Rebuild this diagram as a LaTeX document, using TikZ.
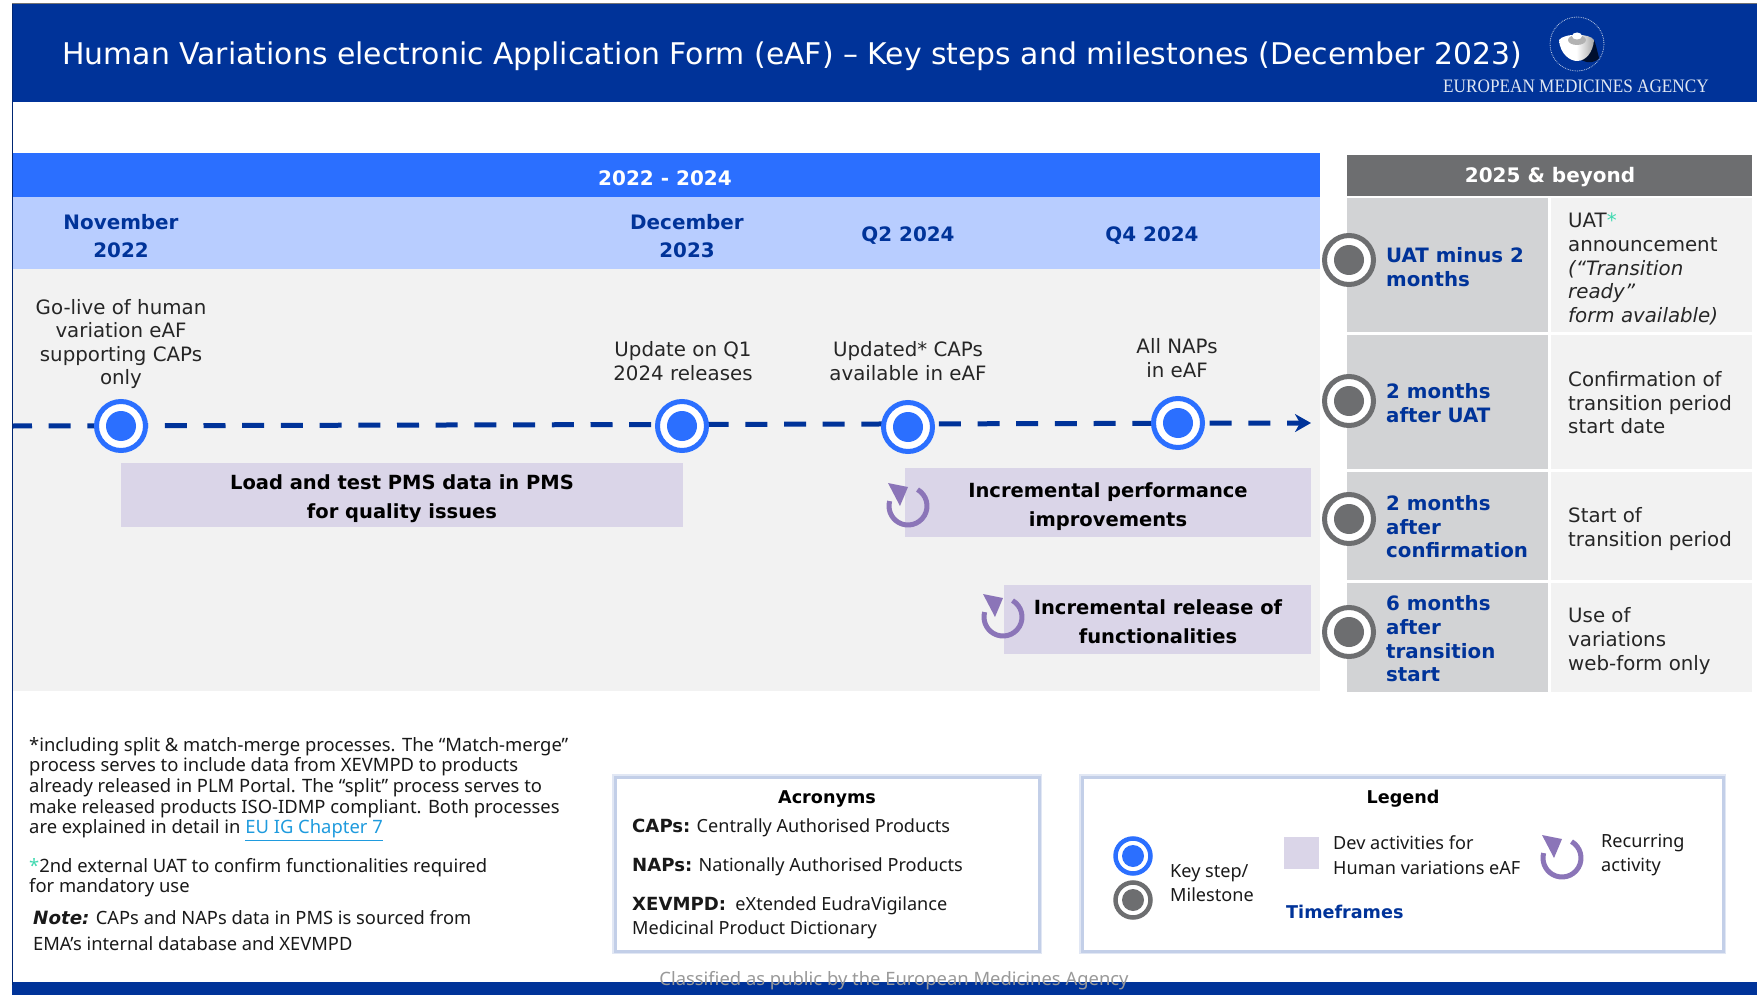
\documentclass[tikz,border=0pt]{standalone}
\usepackage{fontspec}
\setmainfont{DejaVu Sans}
\newfontfamily\serifl{Liberation Serif}
\newfontfamily\notef[BoldFont={DejaVu Sans Bold},BoldItalicFont={DejaVu Sans Bold Oblique}]{Noto Sans}
\usetikzlibrary{arrows.meta,shadings}
\definecolor{emablue}{HTML}{003399}
\definecolor{brightblue}{HTML}{2B6FFF}
\definecolor{paleblue}{HTML}{B8CDFF}
\definecolor{panelgrey}{HTML}{F2F2F2}
\definecolor{midgrey}{HTML}{6D6E70}
\definecolor{cellgrey}{HTML}{D2D3D5}
\definecolor{lilac}{HTML}{DAD5E8}
\definecolor{cyclepurple}{HTML}{8B75B8}
\definecolor{teal}{HTML}{3FD9B0}
\definecolor{linkblue}{HTML}{1F9BDE}
\definecolor{glow}{HTML}{C3CFE8}
\newcommand{\fs}[2]{\fontsize{#1}{#2}\selectfont}
\tikzset{
  keystep/.style={circle,inner sep=0pt,outer sep=0pt,minimum size=49pt,line width=5pt,draw=brightblue,fill=white,
    path picture={\fill[brightblue] (path picture bounding box.center) circle (15pt);}},
  milestone/.style={keystep,draw=midgrey,
    path picture={\fill[midgrey] (path picture bounding box.center) circle (15pt);}},
  keysmall/.style={circle,inner sep=0pt,outer sep=0pt,minimum size=35pt,line width=4.5pt,draw=brightblue,fill=white,
    path picture={\fill[brightblue] (path picture bounding box.center) circle (11pt);}},
  milesmall/.style={keysmall,draw=midgrey,
    path picture={\fill[midgrey] (path picture bounding box.center) circle (11pt);}},
  headtxt/.style={text=white,font=\bfseries\fs{20}{24},align=center,inner sep=0pt},
  datetxt/.style={text=emablue,font=\bfseries\fs{19.9}{28},align=center,inner sep=0pt},
  steptxt/.style={text=black!85,font=\fs{19.8}{23.6},align=center,inner sep=0pt},
  acttxt/.style={text=black,font=\bfseries\fs{19.5}{29},align=center,inner sep=0pt},
  whentxt/.style={text=emablue,font=\bfseries\fs{19.8}{23.6},align=left,anchor=west,inner sep=0pt},
  whattxt/.style={text=black!85,font=\fs{19.8}{23.6},align=left,anchor=west,inner sep=0pt},
  notetxt/.style={text=black!90,font=\notef\fs{18.4}{20.7},align=left,anchor=north west,inner sep=0pt},
  boxtxt/.style={text=black!90,font=\notef\fs{18.1}{24.5},align=left,anchor=west,inner sep=0pt},
  softbox/.style={fill=white},
  pics/recur/.style={code={
    \draw[cyclepurple,line width=5pt] (-60:19) arc[start angle=-60,end angle=195,radius=19];
    \fill[cyclepurple] (-20,-23) -- (0,-19) -- (-8,0) -- cycle;
  }}
}
\begin{document}
\begin{tikzpicture}[x=1pt,y=-1pt]
\useasboundingbox (0,0) rectangle (1757,995);
\fill[white] (0,0) rectangle (1757,995);
% frame bands
\fill[emablue] (12,4) rectangle (1757,102);
\draw[black!55,line width=1pt] (12,4) -- (1757,4);
\fill[emablue] (12,982) rectangle (1757,995);
\fill[brightblue] (13,153) rectangle (1320,197);
\fill[paleblue] (13,197) rectangle (1320,269);
\fill[panelgrey] (13,269) rectangle (1320,691);
\fill[midgrey] (1347,155) rectangle (1752,196);
\foreach \ya/\yb in {198/332,335/469,472/580,583/692}{
  \fill[cellgrey] (1347,\ya) rectangle (1548,\yb);
  \fill[panelgrey] (1551,\ya) rectangle (1752,\yb);
}
\draw[emablue!75!black,line width=1.5pt] (12.5,4) -- (12.5,985);
% title
\node[text=white,font=\fs{29.87}{32},anchor=west,inner sep=0pt] (title) at (62,56) {Human Variations electronic Application Form (eAF) – Key steps and milestones (December 2023)};
% logo
\draw[white!75!emablue,line width=.8pt,densely dotted] (1577,44) circle (27);
\fill[emablue!30!black] (1570,48) .. controls (1580,66) and (1595,64) .. (1599,58) .. controls (1597,50) and (1596,45) .. (1594,40) -- cycle;
\shade[left color=white,right color=black!35,middle color=white] (1559,40) .. controls (1560,54) and (1570,61) .. (1577,61) .. controls (1586,61) and (1593,52) .. (1594,40) .. controls (1590,33) and (1564,33) .. (1559,40) -- cycle;
\fill[black!30] (1577,40) ellipse (9 and 5);
\fill[white] (1577,36) ellipse (5 and 3.5);
\node[text=white!88!emablue,font=\serifl\fs{19}{19},inner sep=0pt] (agency) at (1576,86) {\scalebox{0.905}[1]{EUROPEAN MEDICINES AGENCY}};
% headers
\node[headtxt] (h1) at (665,178) {2022 - 2024};
\node[headtxt] (h2) at (1550,177) {2025 \& beyond};
\node[datetxt] (d1) at (121,236) {November\\2022};
\node[datetxt] (d2) at (687,236) {December\\2023};
\node[datetxt] (d3) at (908,236) {Q2 2024};
\node[datetxt] (d4) at (1152,236) {Q4 2024};
% timeline
\coordinate (tlstart) at (13,426);
\coordinate (tlend) at (1311,423);
\draw[emablue,line width=5pt,dash pattern=on 22pt off 16.7pt,dash phase=3pt,-{Stealth[length=16pt,width=18pt,inset=5pt]}] (tlstart) -- (tlend);
\node[keystep] (m1) at (121,426) {};
\node[keystep] (m2) at (682,426) {};
\node[keystep] (m3) at (908,427) {};
\node[keystep] (m4) at (1178,423) {};
\node[steptxt] (s1) at (121,344) {Go-live of human\\variation eAF\\supporting CAPs\\only};
\node[steptxt] (s2) at (683,361) {Update on Q1\\2024 releases};
\node[steptxt] (s3) at (908,361) {Updated* CAPs\\available in eAF};
\node[steptxt] (s4) at (1177,358) {All NAPs\\in eAF};
% activities
\fill[lilac] (121,463) rectangle (683,527);
\fill[lilac] (905,468) rectangle (1311,537);
\fill[lilac] (1004,585) rectangle (1311,654);
\node[acttxt] (a1) at (402,499) {Load and test PMS data in PMS\\for quality issues};
\node[acttxt] (a2) at (1108,507) {Incremental performance\\improvements};
\node[acttxt] (a3) at (1158,622) {Incremental release of\\functionalities};
\pic at (908,506) {recur};
\pic at (1003,617) {recur};
% right column
\node[milestone] (g1) at (1349,260) {};
\node[milestone] (g2) at (1349,401) {};
\node[milestone] (g3) at (1349,519) {};
\node[milestone] (g4) at (1349,632) {};
\node[whentxt] (w1) at (1386,267) {UAT minus 2\\months};
\node[whentxt] (w2) at (1386,403) {2 months\\after UAT};
\node[whentxt] (w3) at (1386,527) {2 months\\after\\confirmation};
\node[whentxt] (w4) at (1386,639) {6 months\\after\\transition\\start};
\node[whattxt] (t1) at (1568,269) {UAT{\color{teal}*}\\announcement\\\itshape (“Transition\\\itshape ready”\\\itshape form available)};
\node[whattxt] (t2) at (1568,403) {Confirmation of\\transition period\\start date};
\node[whattxt] (t3) at (1568,529) {Start of\\transition period};
\node[whattxt] (t4) at (1568,641) {Use of\\variations\\web-form only};
% footnotes
\node[notetxt] (n1) at (29,737) {*including split \& match-merge processes. The “Match-merge”\\process serves to include data from XEVMPD to products\\already released in PLM Portal. The “split” process serves to\\make released products ISO-IDMP compliant. Both processes\\are explained in detail in {\color{linkblue}\underline{EU IG Chapter 7}}};
\node[notetxt] (n2) at (29,858) {{\color{teal}*}2nd external UAT to confirm functionalities required\\for mandatory use};
\node[notetxt,font=\notef\fs{18.3}{25.8}] (n3) at (33,910) {{\bfseries\itshape Note:} CAPs and NAPs data in PMS is sourced from\\EMA’s internal database and XEVMPD};
% acronyms
\draw[glow!50,line width=6pt] (615,777) rectangle (1039,951);
\draw[glow,line width=3pt,softbox] (615,777) rectangle (1039,951);
\node[font=\notef\bfseries\fs{17.6}{20},inner sep=0pt,text=black] (ac) at (827,799) {Acronyms};
\node[boxtxt] (ac1) at (632,828) {\textbf{CAPs:} Centrally Authorised Products};
\node[boxtxt] (ac2) at (632,867) {\textbf{NAPs:} Nationally Authorised Products};
\node[boxtxt] (ac3) at (632,918) {\textbf{XEVMPD:}\ \ eXtended EudraVigilance\\Medicinal Product Dictionary};
% legend
\draw[glow!50,line width=6pt] (1082,777) rectangle (1723,951);
\draw[glow,line width=3pt,softbox] (1082,777) rectangle (1723,951);
\node[font=\notef\bfseries\fs{17.6}{20},inner sep=0pt,text=black] (lg) at (1403,799) {Legend};
\node[keysmall] (lk) at (1133,856) {};
\node[milesmall] (lm) at (1133,900) {};
\node[boxtxt] (lkt) at (1170,883) {Key step/\\Milestone};
\fill[lilac] (1284,837) rectangle (1319,869);
\node[boxtxt] (ldt) at (1333,855) {Dev activities for\\Human variations eAF};
\pic at (1562,858) {recur};
\node[boxtxt] (lrt) at (1601,855) {Recurring\\activity};
\node[boxtxt,text=emablue,font=\notef\bfseries\fs{17.6}{20}] (ltf) at (1286,912) {Timeframes};
% classification
\node[text=black!40,font=\notef\fs{18.4}{20},inner sep=0pt] (cl) at (894,981) {Classified as public by the European Medicines Agency};
\end{tikzpicture}
\end{document}
